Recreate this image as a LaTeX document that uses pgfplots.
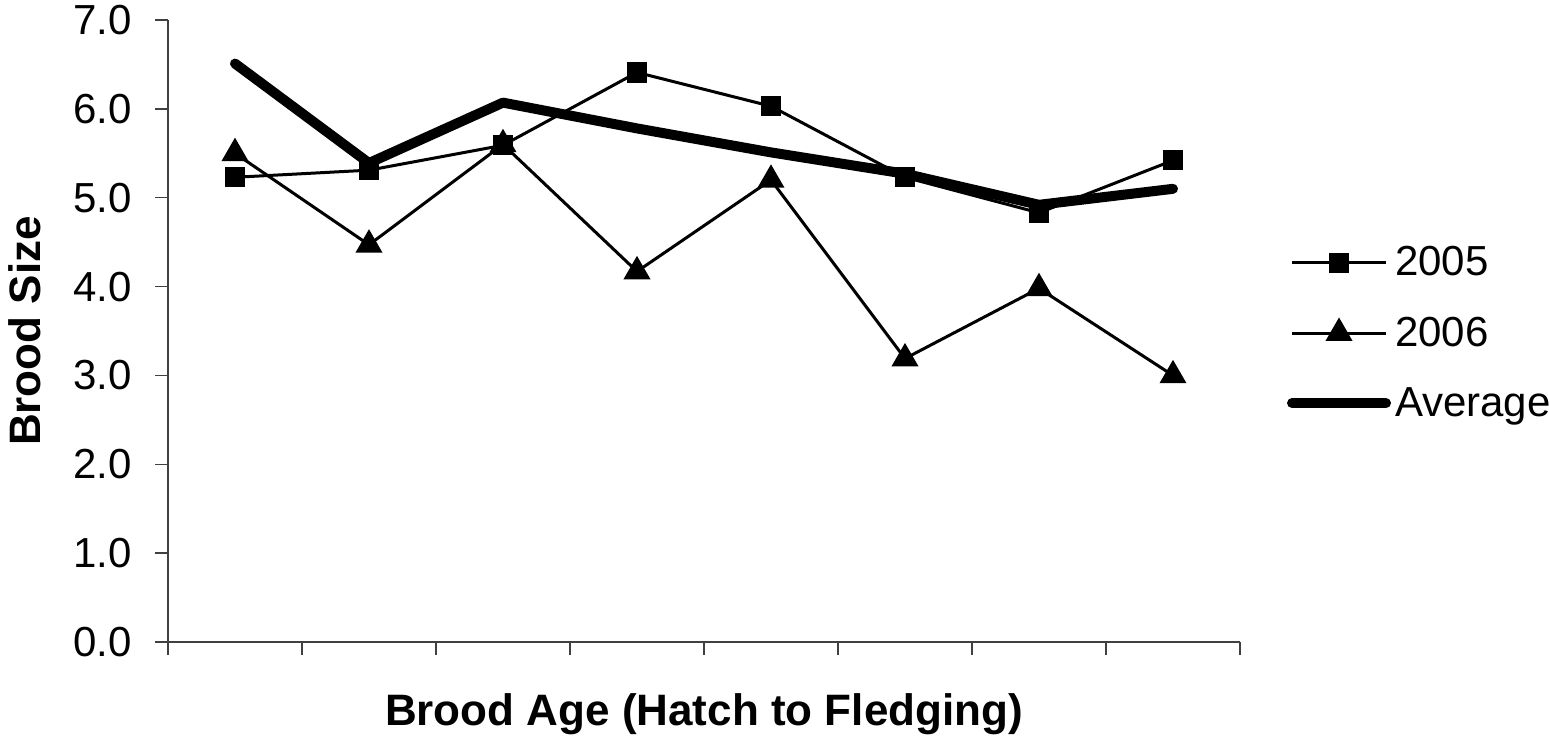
\documentclass[border=0pt]{standalone}
\usepackage{fontspec}
\setmainfont{Liberation Sans}
\usepackage{pgfplots}
\pgfplotsset{compat=1.18}
\begin{document}
\begin{tikzpicture}
\begin{axis}[
  at={(0,0)}, anchor=south west,
  scale only axis, width=536pt, height=311pt,
  xmin=0.5, xmax=8.5, ymin=0, ymax=7,
  xtick={0.5,1.5,2.5,3.5,4.5,5.5,6.5,7.5,8.5}, xticklabels={},
  ytick={0,1,2,3,4,5,6,7},
  yticklabel style={xshift=-8pt, /pgf/number format/.cd, fixed, fixed zerofill, precision=1, assume math mode=true},
  axis x line*=bottom, axis y line*=left,
  axis line style={-, black!75, line width=0.75pt},
  tick align=outside, major tick length=6.5pt,
  tick style={black!75, line width=0.75pt},
  ticklabel style={font=\fontsize{21}{25}\selectfont},
  label style={font=\bfseries\fontsize{22}{26}\selectfont},
  xlabel={Brood Age (Hatch to Fledging)}, ylabel={Brood Size},
  xlabel style={at={(axis description cs:0.5,-0.134)}, anchor=base},
  ylabel style={at={(axis description cs:-0.1334,0.5)}, anchor=center},
  clip=false,
  legend cell align=left,
  legend style={at={(1.0435,0.497)}, anchor=west, draw=none, fill=none,
    inner sep=0pt, row sep=15pt, font=\fontsize{21}{25}\selectfont,
    nodes={inner sep=2pt}},
  legend image code/.code={\draw[mark repeat=2, mark phase=2, #1] plot coordinates {(0pt,0pt) (23.5pt,0pt) (47pt,0pt)};},
]
\addplot[black, line width=1.5pt, mark=square*, mark size=4.3pt, mark options={solid, rounded corners=0.8pt}]
  coordinates {(1,5.23)(2,5.31)(3,5.59)(4,6.41)(5,6.03)(6,5.23)(7,4.83)(8,5.42)};
\addlegendentry{2005}
\addplot[black, line width=1.5pt, mark=triangle*, mark size=6.3pt, mark options={solid}]
  coordinates {(1,5.50)(2,4.47)(3,5.60)(4,4.17)(5,5.20)(6,3.19)(7,3.98)(8,3.00)};
\addlegendentry{2006}
\addplot[black, line width=5pt, line cap=round, line join=round]
  coordinates {(1,6.51)(2,5.39)(3,6.07)(4,5.78)(5,5.51)(6,5.27)(7,4.92)(8,5.10)};
\addlegendentry{Average}
\end{axis}
\pgfresetboundingbox
\useasboundingbox (-84pt,-47.5pt) rectangle (690.5pt,321pt);
\end{tikzpicture}
\end{document}
